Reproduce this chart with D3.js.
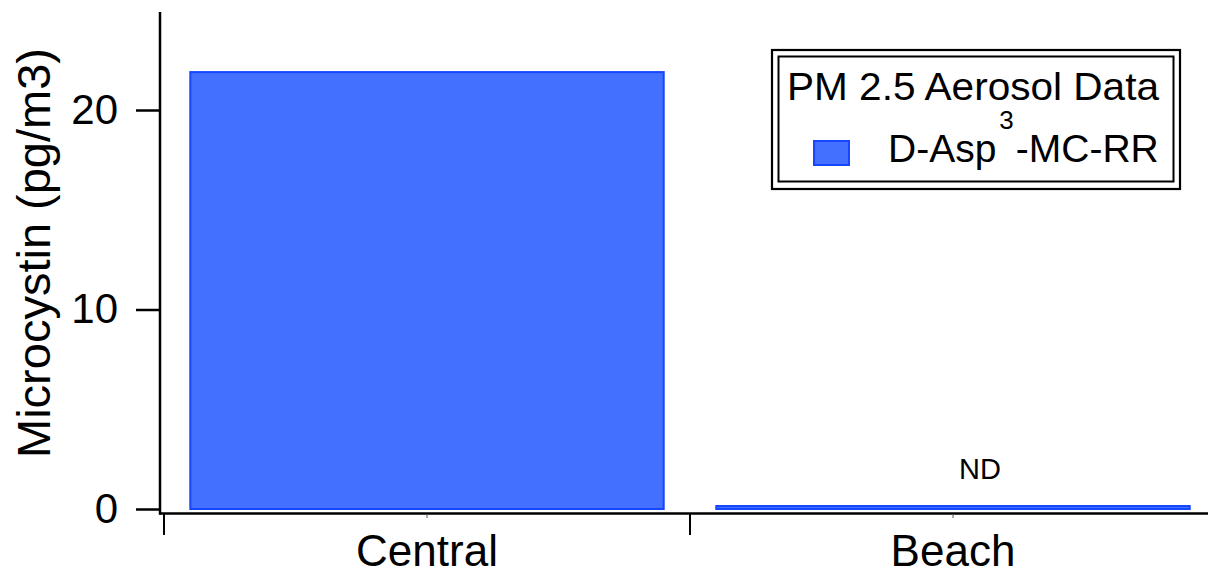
<!DOCTYPE html>
<html>
<head>
<meta charset="utf-8">
<script src="https://cdn.jsdelivr.net/npm/d3@7"></script>
<style>
  html, body { margin: 0; padding: 0; background: #fff; }
  svg { display: block; font-family: Arial, "Liberation Sans", sans-serif; }
</style>
</head>
<body>
<svg id="chart" width="1208" height="573"></svg>
<script>
// Sites and measured microcystin concentrations (pg/m3)
const categories = ["Central", "Beach"];
const values = [21.9, 0.15];
const barLabels = ["", "ND"];
const yTicks = [0, 10, 20];
const seriesName = ["D-Asp", "3", "-MC-RR"];
const legendTitle = "PM 2.5 Aerosol Data";
const yTitle = "Microcystin (pg/m3)";

const fill = "#4470ff", edge = "#1447ff";
const svg = d3.select("#chart");

const x = d3.scaleBand()
  .domain(categories)
  .range([164, 1216])
  .paddingInner(0.1)
  .paddingOuter(0.05);
const y = d3.scaleLinear().domain([0, 25]).range([509, 10.25]);

const step = x.step();

// bars
svg.append("g").selectAll("rect")
  .data(values)
  .join("rect")
  .attr("x", (d, i) => x(categories[i]))
  .attr("width", x.bandwidth())
  .attr("y", d => y(d))
  .attr("height", d => y(0) - y(d))
  .attr("fill", fill)
  .attr("stroke", edge)
  .attr("stroke-width", 2);

// value annotations (set slightly right of the bar centre)
svg.append("g").selectAll("text")
  .data(barLabels)
  .join("text")
  .attr("x", (d, i) => x(categories[i]) + x.bandwidth() / 2 + 27)
  .attr("y", 479)
  .attr("text-anchor", "middle")
  .attr("font-size", 29)
  .attr("fill", "#000")
  .text(d => d);

// y axis
const yAxis = svg.append("g")
  .attr("transform", "translate(160,0)")
  .call(d3.axisLeft(y).tickValues(yTicks).tickSize(24).tickPadding(18).tickSizeOuter(0));
yAxis.select(".domain").remove();
yAxis.selectAll(".tick line").attr("stroke", "#000").attr("stroke-width", 2.5);
yAxis.selectAll(".tick text").attr("font-size", 42).attr("fill", "#000")
  .attr("font-family", "Arial, 'Liberation Sans', sans-serif");
svg.append("line")
  .attr("x1", 160).attr("x2", 160)
  .attr("y1", 12).attr("y2", 514.5)
  .attr("stroke", "#000").attr("stroke-width", 2.5);

// x axis baseline
svg.append("line")
  .attr("x1", 159).attr("x2", 1208)
  .attr("y1", 513.5).attr("y2", 513.5)
  .attr("stroke", "#000").attr("stroke-width", 2.5);

// category boundary ticks
svg.append("g").selectAll("line")
  .data(categories)
  .join("line")
  .attr("x1", d => x(d) - step * x.paddingInner() / 2)
  .attr("x2", d => x(d) - step * x.paddingInner() / 2)
  .attr("y1", 513).attr("y2", 535)
  .attr("stroke", "#000").attr("stroke-width", 2);

// small centre ticks
svg.append("g").selectAll("line")
  .data(categories)
  .join("line")
  .attr("x1", d => x(d) + x.bandwidth() / 2)
  .attr("x2", d => x(d) + x.bandwidth() / 2)
  .attr("y1", 514).attr("y2", 518)
  .attr("stroke", "#555").attr("stroke-width", 1);

// category labels
svg.append("g").selectAll("text")
  .data(categories)
  .join("text")
  .attr("x", d => x(d) + x.bandwidth() / 2)
  .attr("y", 566)
  .attr("text-anchor", "middle")
  .attr("font-size", 44)
  .attr("fill", "#000")
  .text(d => d);

// y title
svg.append("text")
  .attr("transform", "translate(50,253) rotate(-90)")
  .attr("text-anchor", "middle")
  .attr("font-size", 47)
  .attr("fill", "#000")
  .text(yTitle);

// legend
const lg = svg.append("g");
lg.append("rect").attr("x", 772).attr("y", 50).attr("width", 408).attr("height", 139)
  .attr("fill", "#fff").attr("stroke", "#000").attr("stroke-width", 2.2);
lg.append("rect").attr("x", 778.5).attr("y", 56.5).attr("width", 395).attr("height", 125)
  .attr("fill", "none").attr("stroke", "#000").attr("stroke-width", 2);
lg.append("text").attr("x", 787).attr("y", 100).attr("font-size", 39).attr("fill", "#000")
  .attr("textLength", 372).attr("lengthAdjust", "spacingAndGlyphs")
  .text(legendTitle);
lg.append("rect").attr("x", 814).attr("y", 141).attr("width", 35).attr("height", 24)
  .attr("fill", fill).attr("stroke", edge).attr("stroke-width", 2);
const t = lg.append("text").attr("x", 888).attr("y", 162).attr("font-size", 39).attr("fill", "#000");
t.append("tspan").text(seriesName[0]);
t.append("tspan").attr("dy", -33).attr("dx", 3).attr("font-size", 26).text(seriesName[1]);
t.append("tspan").attr("dy", 33).attr("dx", 2).text(seriesName[2]);
</script>
</body>
</html>
